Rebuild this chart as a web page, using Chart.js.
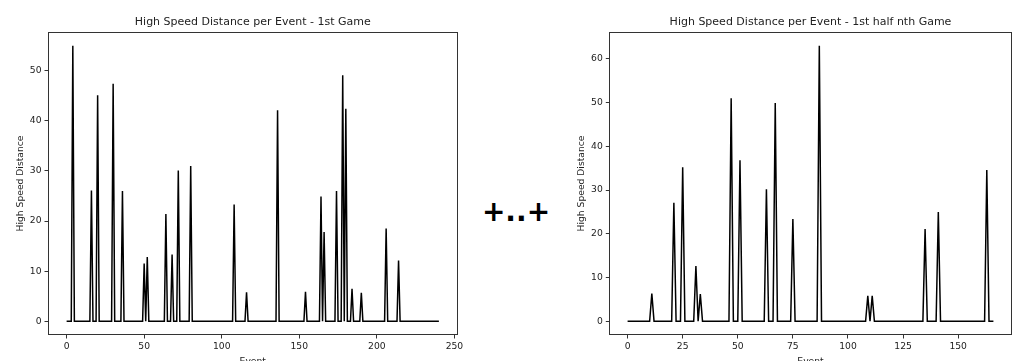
<!DOCTYPE html>
<html><head><meta charset="utf-8">
<script src="https://cdn.jsdelivr.net/npm/chart.js@4.4.1/dist/chart.umd.min.js"></script>
<style>
html,body{margin:0;padding:0;background:#fff;width:1014px;height:361px;overflow:hidden;}
#wrap{position:relative;width:1014px;height:361px;overflow:hidden;background:#fff;}
#c1{position:absolute;left:0;top:0;}
#c2{position:absolute;left:560px;top:0;}
#plus{position:absolute;left:470px;top:198px;width:92px;text-align:center;font:bold 28px/28px "DejaVu Sans";color:#000;}
</style></head><body>
<div id="wrap">
<canvas id="c1" width="470" height="375"></canvas>
<div id="plus">+..+</div>
<canvas id="c2" width="454" height="375"></canvas>
</div>
<script>
const leftTitle = 'High Speed Distance per Event - 1st Game';
const rightTitle = 'High Speed Distance per Event - 1st half nth Game';
const xAxisLabel = 'Event';
const yAxisLabel = 'High Speed Distance';

const leftLastEvent = 240;
const leftSpikeEvents = [4,16,20,30,36,50,52,64,68,72,80,108,116,136,154,164,166,174,178,180,184,190,206,214];
const leftSpikeValues = [55,26.1,45.1,47.4,26,11.5,12.8,21.4,13.3,30.1,31,23.3,5.8,42.1,5.9,24.9,17.8,26,49.1,42.4,6.5,5.7,18.5,12.1];
const leftXTicks = [0,50,100,150,200,250];
const leftYTicks = [0,10,20,30,40,50];

const rightLastEvent = 166;
const rightSpikeEvents = [11,21,25,31,33,47,51,63,67,75,87,109,111,135,141,163];
const rightSpikeValues = [6.3,27.1,35.2,12.6,6.2,51,36.8,30.2,49.9,23.4,63,5.8,5.8,21.1,25,34.6];
const rightXTicks = [0,25,50,75,100,125,150];
const rightYTicks = [0,10,20,30,40,50,60];

function buildSeries(last, evs, vals){
  const pts = [];
  for (let i = 0; i <= last; i++) {
    const k = evs.indexOf(i);
    pts.push({x: i, y: k >= 0 ? vals[k] : 0});
  }
  return pts;
}

const framePlugin = {
  id: 'frame',
  afterDraw(chart){
    const {ctx, chartArea: a} = chart;
    ctx.save();
    ctx.strokeStyle = '#333';
    ctx.lineWidth = 1;
    const l = Math.round(a.left) + 0.5, t = Math.round(a.top) + 0.5;
    const r = Math.round(a.right) - 0.5, b = Math.round(a.bottom) - 0.5;
    ctx.strokeRect(l, t, r - l, b - t);
    ctx.restore();
  }
};

const tickFont = {family: 'DejaVu Sans', size: 9.2, lineHeight: 1.2};

function makeChart(id, cfg){
  const maxV = Math.max(...cfg.values);
  return new Chart(document.getElementById(id), {
    type: 'line',
    data: {datasets: [{data: buildSeries(cfg.last, cfg.events, cfg.values), borderColor: '#000', borderWidth: 1.5, pointRadius: 0, tension: 0, fill: false}]},
    options: {
      responsive: false, animation: false, devicePixelRatio: 1,
      layout: {padding: {left: 0, right: cfg.padRight, top: 0, bottom: 0}},
      plugins: {
        legend: {display: false}, tooltip: {enabled: false},
        title: {display: true, text: cfg.title, fullSize: false, color: '#222',
          font: {family: 'DejaVu Sans', size: 11, weight: 'normal', lineHeight: 1.2},
          padding: {top: 15.1, bottom: 3.7}}
      },
      scales: {
        x: {
          type: 'linear', min: -0.05 * cfg.last, max: 1.05 * cfg.last,
          afterFit(s){ s.height = 40; },
          afterBuildTicks(s){ s.ticks = cfg.xTicks.map(v => ({value: v})); },
          grid: {drawOnChartArea: false, drawTicks: true, tickLength: 3.5, color: '#333'},
          border: {display: false},
          ticks: {padding: 3, color: '#222', font: tickFont, maxRotation: 0, autoSkip: false, callback: v => String(v)},
          title: {display: true, text: xAxisLabel, color: '#222', font: tickFont, padding: {top: 0, bottom: 7.5}}
        },
        y: {
          min: -0.05 * maxV, max: 1.05 * maxV,
          afterFit(s){ s.width = cfg.yWidth; },
          afterBuildTicks(s){ s.ticks = cfg.yTicks.map(v => ({value: v})); },
          grid: {drawOnChartArea: false, drawTicks: true, tickLength: 3.5, color: '#333'},
          border: {display: false},
          ticks: {padding: 3, color: '#222', font: tickFont, autoSkip: false, callback: v => String(v)},
          title: {display: true, text: yAxisLabel, color: '#222', font: tickFont, padding: {top: cfg.yTitlePad, bottom: 0}}
        }
      }
    },
    plugins: [framePlugin]
  });
}

makeChart('c1', {title: leftTitle, last: leftLastEvent, events: leftSpikeEvents, values: leftSpikeValues,
  xTicks: leftXTicks, yTicks: leftYTicks, padRight: 12.5, yWidth: 48, yTitlePad: 15.5});
makeChart('c2', {title: rightTitle, last: rightLastEvent, events: rightSpikeEvents, values: rightSpikeValues,
  xTicks: rightXTicks, yTicks: rightYTicks, padRight: 2.3, yWidth: 49.3, yTitlePad: 16.2});
</script>
</body></html>
